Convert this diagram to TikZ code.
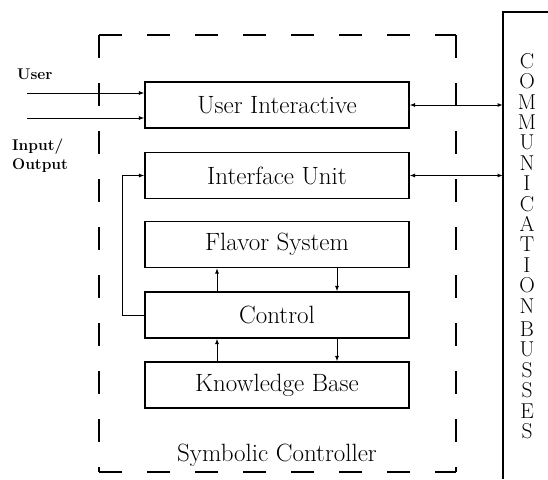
\documentclass[tikz,border=0pt]{standalone}
\usepackage{fontspec}
\usetikzlibrary{arrows.meta}
\begin{document}
\begin{tikzpicture}[x=1pt,y=-1pt,
  blk/.style={draw, line width=1.1pt, minimum width=264pt, minimum height=46pt,
    inner sep=0pt, font=\fontsize{25}{30}\selectfont},
  tip/.tip={Latex[length=5.5pt,width=4pt]},
  conn/.style={line width=1pt, -tip},
  both/.style={line width=1pt, tip-tip},
  side/.style={line width=1.1pt, dash pattern=on 23pt off 25pt},
  lbl/.style={font=\bfseries\fontsize{15.5}{18.5}\selectfont, align=left, inner sep=0pt},
  big/.style={font=\fontsize{25}{30}\selectfont, inner sep=0pt}
]
\useasboundingbox (0,0) rectangle (548,479);

% the five blocks of the controller
\node[blk] (ui)  at (277,105)   {User Interactive};
\node[blk] (iu)  at (277,175.5) {Interface Unit};
\node[blk] (fs)  at (277,244.5) {Flavor System};
\node[blk] (ctl) at (277,315)   {Control};
\node[blk] (kb)  at (277,385)   {Knowledge Base};
\node[big, anchor=base] (sc) at (277,461) {Symbolic Controller};

% dashed frame round the controller, each side dashed from its corner
\coordinate (tl) at (99,35);
\coordinate (tr) at (456,35);
\coordinate (bl) at (99,472);
\coordinate (br) at (456,472);
\draw[side] (tl) -- (tr);
\draw[side] (tl) -- (bl);
\draw[side] (tr) -- (br);
\draw[side] (bl) -- (br);

% communication busses
\coordinate (busend) at (548,12);
\coordinate (bustop) at (503,12);
\coordinate (busbot) at (503,479);
\draw[line width=1.1pt] (busend) -- (bustop) -- (busbot);
\node[font=\fontsize{21.5}{20.4}\selectfont, align=center, inner sep=0pt, anchor=north]
  (cb) at (527,53)
  {C\\O\\M\\M\\U\\N\\I\\C\\A\\T\\I\\O\\N\\[3pt]B\\U\\S\\S\\E\\S};

\draw[both] (ui.east) -- (ui.east -| bustop);
\draw[both] (iu.east) -- (iu.east -| bustop);

% user input/output lines
\node[lbl, anchor=west] (user) at (17,74) {User};
\node[lbl, anchor=north west] (io) at (12,139) {Input/\\Output};
\coordinate (in1) at (27,93);
\coordinate (in2) at (27,118);
\draw[conn] (in1) -- (in1 -| ui.west);
\draw[conn] (in2) -- (in2 -| ui.west);

% feedback from control to the interface unit
\draw[conn] (ctl.west) -- ++(-22,0) |- (iu.west);

% exchanges between the stacked blocks
\coordinate (ux) at (217,0);
\coordinate (dx) at (337,0);
\draw[conn] (ux |- ctl.north) -- (ux |- fs.south);
\draw[conn] (dx |- fs.south) -- (dx |- ctl.north);
\draw[conn] (ux |- kb.north) -- (ux |- ctl.south);
\draw[conn] (dx |- ctl.south) -- (dx |- kb.north);
\end{tikzpicture}
\end{document}
